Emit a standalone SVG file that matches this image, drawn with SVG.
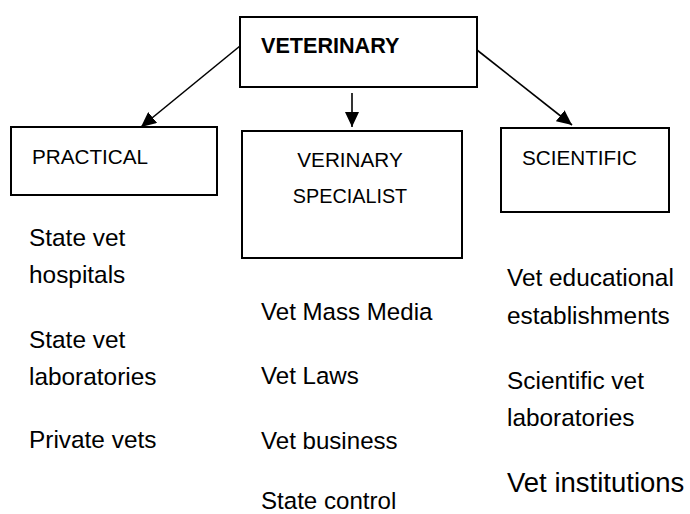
<svg xmlns="http://www.w3.org/2000/svg" width="690" height="514" viewBox="0 0 690 514">
<style>
.box{fill:#fff;stroke:#000;stroke-width:2}
.lbl{font-family:"Liberation Sans",Arial,sans-serif;font-size:20.7px;fill:#000}
.txt{font-family:"Liberation Sans",Arial,sans-serif;font-size:24.4px;fill:#000}
.conn{stroke:#000;stroke-width:1.6;fill:none}
</style>
<defs>
<marker id="ah" markerUnits="userSpaceOnUse" markerWidth="16" markerHeight="14" refX="15" refY="7" orient="auto" viewBox="0 0 16 14">
<path d="M0,0 L15,7 L0,14 z" fill="#000"/>
</marker>
</defs>
<rect width="690" height="514" fill="#fff"/>
<g id="connectors">
<line class="conn" x1="240" y1="46" x2="141" y2="127" marker-end="url(#ah)"/>
<line class="conn" x1="352" y1="93" x2="352" y2="127" marker-end="url(#ah)"/>
<line class="conn" x1="477" y1="50" x2="572" y2="125" marker-end="url(#ah)"/>
</g>
<g id="veterinary">
<rect class="box" x="240" y="17" width="237" height="70"/>
<text class="lbl" x="261" y="53" style="font-weight:bold;font-size:21.6px">VETERINARY</text>
</g>
<g id="practical">
<rect class="box" x="11" y="127" width="206" height="68"/>
<text class="lbl" x="32" y="164">PRACTICAL</text>
</g>
<g id="specialist">
<rect class="box" x="242" y="131" width="220" height="127"/>
<text class="lbl" x="350" y="167" text-anchor="middle">VERINARY</text>
<text class="lbl" x="350" y="203" text-anchor="middle" style="font-size:19.8px">SPECIALIST</text>
</g>
<g id="scientific">
<rect class="box" x="501" y="128" width="168" height="84"/>
<text class="lbl" x="522" y="165">SCIENTIFIC</text>
</g>
<g id="practical-items">
<text class="txt" x="29" y="246">State vet</text>
<text class="txt" x="29" y="283">hospitals</text>
<text class="txt" x="29" y="348">State vet</text>
<text class="txt" x="29" y="385">laboratories</text>
<text class="txt" x="29" y="448">Private vets</text>
</g>
<g id="specialist-items">
<text class="txt" x="261" y="320" style="font-size:24.1px">Vet Mass Media</text>
<text class="txt" x="261" y="384" style="font-size:24.1px">Vet Laws</text>
<text class="txt" x="261" y="449" style="font-size:24.1px">Vet business</text>
<text class="txt" x="261" y="509" style="font-size:24.1px">State control</text>
</g>
<g id="scientific-items">
<text class="txt" x="507" y="286">Vet educational</text>
<text class="txt" x="507" y="324">establishments</text>
<text class="txt" x="507" y="389">Scientific vet</text>
<text class="txt" x="507" y="426">laboratories</text>
<text class="txt" x="507" y="492" style="font-size:27.5px">Vet institutions</text>
</g>
</svg>
